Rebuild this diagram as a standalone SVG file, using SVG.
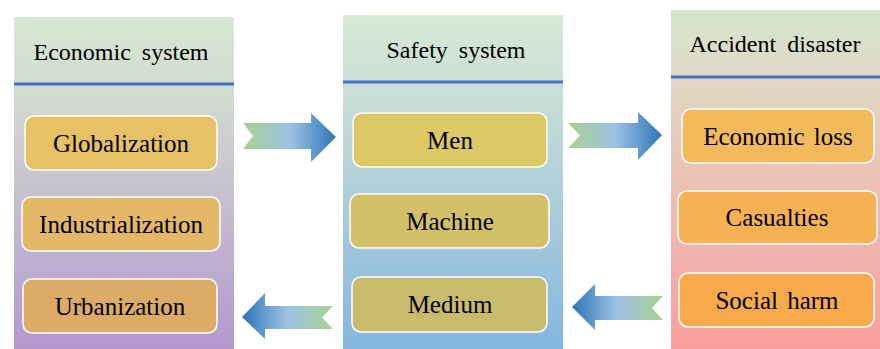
<svg xmlns="http://www.w3.org/2000/svg" width="880" height="349" viewBox="0 0 880 349">
<defs>
<linearGradient id="gL" x1="0" y1="0" x2="0" y2="1">
<stop offset="0" stop-color="#d6e8d3"/><stop offset="0.22" stop-color="#d2dccf"/><stop offset="1" stop-color="#b497cf"/>
</linearGradient>
<linearGradient id="gM" x1="0" y1="0" x2="0" y2="1">
<stop offset="0" stop-color="#d7e8d3"/><stop offset="0.22" stop-color="#cbdfd6"/><stop offset="1" stop-color="#84b6e0"/>
</linearGradient>
<linearGradient id="gR" x1="0" y1="0" x2="0" y2="1">
<stop offset="0" stop-color="#d6e6cf"/><stop offset="0.2" stop-color="#e0d8c4"/><stop offset="1" stop-color="#fa9e9f"/>
</linearGradient>
<linearGradient id="aR" x1="0" y1="0" x2="1" y2="0">
<stop offset="0" stop-color="#a9d18e"/><stop offset="0.5" stop-color="#9dc3e6"/><stop offset="1" stop-color="#2e75b6"/>
</linearGradient>
<linearGradient id="aL" x1="1" y1="0" x2="0" y2="0">
<stop offset="0" stop-color="#a9d18e"/><stop offset="0.5" stop-color="#9dc3e6"/><stop offset="1" stop-color="#2e75b6"/>
</linearGradient>
<style>
text{font-family:'Liberation Serif','DejaVu Serif',serif;fill:#000}
.title{font-size:24px;text-anchor:middle;word-spacing:5px}
.lbl{font-size:25px;text-anchor:middle;word-spacing:3px}
.box{stroke:#ffffff;stroke-width:1.5}
.hl{stroke:#4472c4;stroke-width:3}
</style>
</defs>
<g id="economic-system">
<rect x="14" y="17" width="220" height="332" fill="url(#gL)"/>
<line class="hl" x1="14" y1="84" x2="234" y2="84"/>
<text class="title" x="121" y="60">Economic system</text>
<g id="globalization"><rect class="box" x="25" y="116" width="192" height="54" rx="9" fill="#e6c264"/><text class="lbl" x="121" y="152">Globalization</text></g>
<g id="industrialization"><rect class="box" x="22" y="197" width="198" height="54" rx="9" fill="#e3b867"/><text class="lbl" x="121" y="233">Industrialization</text></g>
<g id="urbanization"><rect class="box" x="23" y="279" width="194" height="54" rx="9" fill="#dcab66"/><text class="lbl" x="120" y="315">Urbanization</text></g>
</g>
<g id="safety-system">
<rect x="343" y="15" width="220" height="334" fill="url(#gM)"/>
<line class="hl" x1="343" y1="82" x2="563" y2="82"/>
<text class="title" x="456" y="58">Safety system</text>
<g id="men"><rect class="box" x="353" y="113" width="194" height="54" rx="9" fill="#dcc865"/><text class="lbl" x="450" y="149">Men</text></g>
<g id="machine"><rect class="box" x="350" y="194" width="199" height="54" rx="9" fill="#d4c068"/><text class="lbl" x="450" y="230">Machine</text></g>
<g id="medium"><rect class="box" x="352" y="277" width="195" height="55" rx="9" fill="#c9ba6c"/><text class="lbl" x="450" y="313">Medium</text></g>
</g>
<g id="accident-disaster">
<rect x="671" y="10" width="209" height="339" fill="url(#gR)"/>
<line class="hl" x1="671" y1="77" x2="880" y2="77"/>
<text class="title" x="775" y="52">Accident disaster</text>
<g id="economic-loss"><rect class="box" x="682" y="109" width="192" height="54" rx="9" fill="#f2ba5a"/><text class="lbl" x="778" y="145">Economic loss</text></g>
<g id="casualties"><rect class="box" x="678" y="191" width="199" height="53" rx="9" fill="#f5b152"/><text class="lbl" x="777" y="226">Casualties</text></g>
<g id="social-harm"><rect class="box" x="679" y="273" width="195" height="54" rx="9" fill="#f7aa4b"/><text class="lbl" x="777" y="309">Social harm</text></g>
</g>
<g id="connectors">
<polygon fill="url(#aR)" points="243,123 311,123 311,113 336,137 311,162 311,149 243,149 253,136"/>
<polygon fill="url(#aR)" points="568,123 638,123 638,112 662,135 638,160 638,148 568,148 580,135.5"/>
<polygon fill="url(#aL)" points="333,306 265,306 265,293 242,317 265,339 265,329 333,329 322,317.5"/>
<polygon fill="url(#aL)" points="663,296 595,296 595,284 572,307 595,330 595,320 663,320 652,308"/>
</g>
</svg>
